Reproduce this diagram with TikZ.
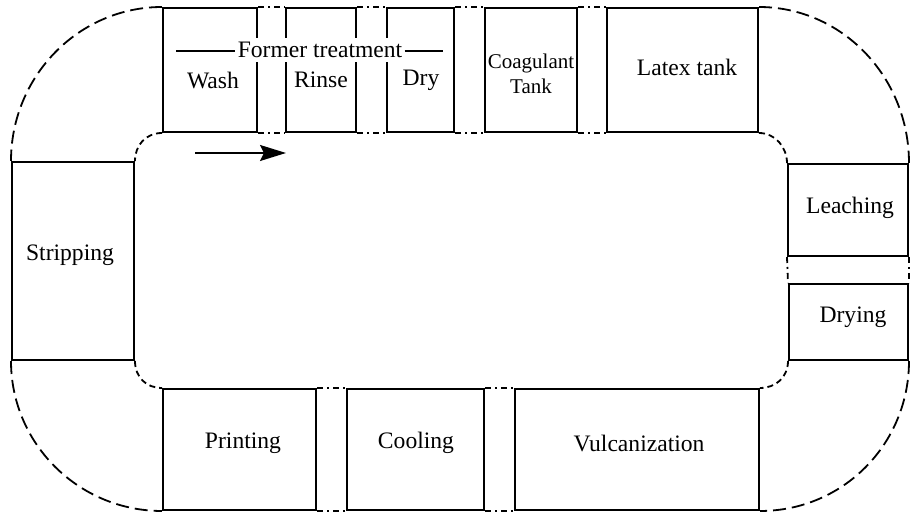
\documentclass[tikz,border=0pt]{standalone}
\usepackage{fontspec}
\setmainfont{Liberation Serif}
\usetikzlibrary{fit,arrows.meta}
\begin{document}
\begin{tikzpicture}[x=0.5pt,y=-0.5pt,
  box/.style={draw,line width=1pt,inner sep=0pt,rectangle},
  lbl/.style={font=\fontsize{11.8}{13}\selectfont,inner sep=0pt},
  outerd/.style={line width=0.9pt,dash pattern=on 6.5pt off 3pt},
  innerd/.style={line width=0.9pt,dash pattern=on 3pt off 2pt},
  gapd/.style={line width=0.9pt,dash pattern=on 3pt off 2pt on 1pt off 2pt}]
\useasboundingbox (0,0) rectangle (918,513);
% boxes
\node[box,fit={(163,8) (257,132)}] (wash) {};
\node[box,fit={(286,8) (356,132)}] (rinse) {};
\node[box,fit={(387,8) (454,132)}] (dry) {};
\node[box,fit={(485,8) (577,132)}] (coag) {};
\node[box,fit={(607,8) (758,132)}] (latex) {};
\node[box,fit={(788,164) (908,256)}] (leach) {};
\node[box,fit={(789,284) (908,360)}] (drying) {};
\node[box,fit={(12,162) (134,360)}] (strip) {};
\node[box,fit={(163,389) (316,510)}] (print) {};
\node[box,fit={(347,389) (484,510)}] (cool) {};
\node[box,fit={(515,389) (759,510)}] (vulc) {};
% texts
\node[lbl] (twash) at (213,80) {Wash};
\node[lbl] (trinse) at (321,80) {Rinse};
\node[lbl] (tdry) at (421,80) {Dry};
\node[lbl,align=center,font=\fontsize{10.5}{12.5}\selectfont] (tcoag) at (531,74) {Coagulant\\Tank};
\node[lbl] (tlatex) at (687,67) {Latex tank};
\node[lbl] (tleach) at (850,208) {Leaching};
\node[lbl] (tdrying) at (853,317) {Drying};
\node[lbl] (tstrip) at (70,255) {Stripping};
\node[lbl] (tprint) at (243,443) {Printing};
\node[lbl] (tcool) at (416,443) {Cooling};
\node[lbl] (tvulc) at (639,443) {Vulcanization};
% former treatment
\node[lbl,fill=white,inner xsep=1pt,inner ysep=2pt] (ft) at (320,50) {Former treatment};
\coordinate (ftl) at (176,51);
\coordinate (ftr) at (443,51);
\draw[line width=0.8pt] (ftl) -- (ft.west |- ftl);
\draw[line width=0.8pt] (ft.east |- ftr) -- (ftr);
% arrow
\coordinate (arrS) at (195,153);
\coordinate (arrE) at (286,153);
\draw[line width=0.9pt,-{Stealth[length=13pt,width=8pt,inset=2pt]}] (arrS) -- (arrE);
% gaps between boxes
\foreach \a/\b in {wash/rinse,rinse/dry,dry/coag,coag/latex,print/cool,cool/vulc}{
  \draw[gapd] (\a.north east) -- (\b.north west);
  \draw[gapd] (\a.south east) -- (\b.south west);
}
\draw[gapd] (leach.south west) -- (drying.north west);
\draw[gapd] (leach.south east) -- (drying.north east);
% outer arcs
\draw[outerd] (wash.north west) .. controls +(-83,0) and +(0,-85) .. (strip.north west);
\draw[outerd] (latex.north east) .. controls +(83,0) and +(0,-86) .. (leach.north east);
\draw[outerd] (drying.south east) .. controls +(0,83) and +(83,0) .. (vulc.south east);
\draw[outerd] (strip.south west) .. controls +(0,83) and +(-83,0) .. (print.south west);
% inner arcs
\draw[innerd] (wash.south west) .. controls +(-16,0) and +(0,-16) .. (strip.north east);
\draw[innerd] (latex.south east) .. controls +(16,0) and +(0,-16) .. (leach.north west);
\draw[innerd] (drying.south west) .. controls +(0,16) and +(16,0) .. (vulc.north east);
\draw[innerd] (strip.south east) .. controls +(0,16) and +(-16,0) .. (print.north west);
\end{tikzpicture}
\end{document}
